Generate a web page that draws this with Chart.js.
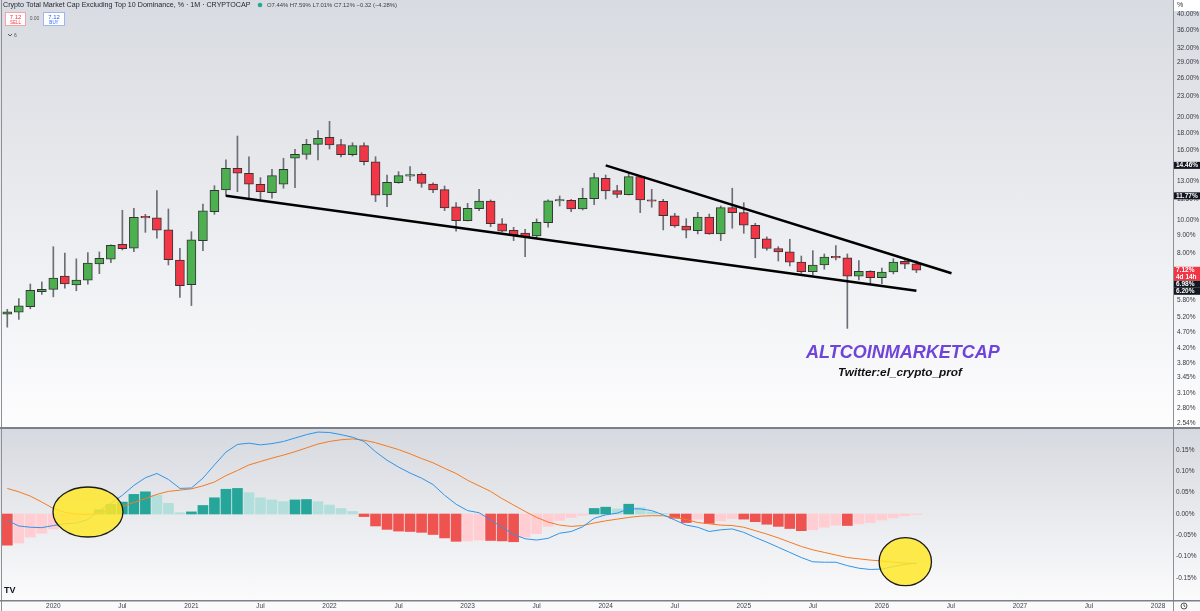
<!DOCTYPE html>
<html>
<head>
<meta charset="utf-8">
<script src="https://cdn.jsdelivr.net/npm/chart.js@4.4.1/dist/chart.umd.min.js"></script>
<style>
  html, body { margin: 0; padding: 0; }
  body { width: 1200px; height: 611px; position: relative; overflow: hidden; background: #fafafa; }
  #mainBg { position: absolute; left: 0; top: 0; width: 1200px; height: 429px; background: linear-gradient(#d8dbe1, #fdfdfe); }
  #macdBg { position: absolute; left: 0; top: 429px; width: 1200px; height: 171px; background: linear-gradient(#d6d9df, #fbfbfc); }
  canvas { position: absolute; left: 0; }
  #mainChart { top: 0; }
  #macdChart { top: 429px; }
</style>
</head>
<body>
<div id="mainBg"></div>
<div id="macdBg"></div>
<canvas id="mainChart" width="1200" height="429"></canvas>
<canvas id="macdChart" width="1200" height="182"></canvas>
<script>
// monthly candles, index 0 = Sep 2019
var opens = [5.29,5.37,5.57,6.16,6.26,6.85,6.45,6.66,7.43,7.67,
  8.49,8.26,10.18,10.14,9.35,7.63,6.46,8.70,10.58,12.25,
  14.18,13.71,12.73,12.02,12.73,15.17,15.58,16.67,17.48,16.65,
  15.54,16.52,14.82,11.84,12.86,13.45,13.62,12.75,12.27,10.92,
  9.95,10.79,11.37,9.75,9.33,9.16,8.98,9.82,11.37,11.42,
  10.77,11.55,13.25,12.19,11.86,13.40,11.45,11.35,10.29,9.60,
  9.30,10.20,9.10,10.87,10.51,9.65,8.81,8.25,8.06,7.52,
  7.05,7.38,7.83,7.74,6.84,7.07,6.77,7.04,7.57,7.44];
var highs = [5.47,5.88,6.49,6.58,8.35,8.00,7.69,8.02,8.06,8.45,
  10.68,10.82,10.39,12.19,10.77,8.26,9.24,11.14,12.61,15.00,
  17.63,15.33,13.31,14.08,15.17,16.12,17.24,18.28,19.47,17.24,
  16.85,16.85,15.33,13.55,13.86,14.33,13.76,12.86,12.58,11.24,
  11.19,12.30,11.45,10.09,9.52,9.39,10.07,11.45,11.76,11.50,
  12.39,13.71,13.55,12.64,13.71,13.46,12.30,11.50,10.46,10.09,
  10.53,10.41,10.99,12.39,11.24,9.78,8.92,8.35,8.78,7.84,
  8.13,7.95,8.41,7.95,7.60,7.10,7.23,7.70,7.63,7.59];
var lows = [4.85,5.11,5.49,6.05,5.95,6.31,6.20,6.48,6.96,7.50,
  8.17,8.07,9.20,8.84,7.38,5.93,5.61,8.13,10.39,11.76,
  12.11,11.60,11.50,11.58,12.39,12.44,15.07,15.00,16.15,15.30,
  15.41,14.50,11.32,10.94,12.81,13.04,12.47,12.02,10.65,9.28,
  9.93,10.65,9.56,9.22,8.70,7.81,8.81,9.52,10.99,10.58,
  10.70,11.09,11.52,11.63,11.84,10.51,10.90,9.35,9.52,8.86,
  9.10,9.08,8.70,9.46,9.14,7.75,8.15,7.58,7.33,6.98,
  6.90,7.17,7.63,4.81,6.67,6.49,6.50,6.95,7.20,7.01];
var closes = [5.38,5.60,6.22,6.26,6.76,6.49,6.67,7.48,7.72,8.43,
  8.24,10.18,10.14,9.33,7.65,6.42,8.74,10.63,12.22,14.18,
  13.71,12.73,12.11,13.49,14.08,15.58,16.67,17.36,16.59,15.54,
  16.52,14.82,11.82,12.90,13.49,13.50,12.81,12.25,10.84,9.95,
  10.82,11.37,9.75,9.28,9.04,8.92,9.85,11.39,11.41,10.77,
  11.58,13.31,12.16,11.89,13.40,11.45,11.35,10.29,9.60,9.33,
  10.20,9.10,10.87,10.51,9.65,8.81,8.25,8.06,7.52,7.05,
  7.38,7.79,7.74,6.84,7.07,6.77,7.04,7.53,7.42,7.12];

// MACD (12, 26, 9) pane
var macdLine = [-0.015,-0.028,-0.031,-0.032,-0.027,-0.023,-0.021,-0.013,0.008,0.025,
  0.044,0.067,0.085,0.095,0.081,0.060,0.061,0.084,0.115,0.145,
  0.163,0.166,0.162,0.165,0.170,0.178,0.186,0.192,0.191,0.186,
  0.180,0.170,0.146,0.126,0.110,0.096,0.084,0.069,0.044,0.023,
  0.008,0.003,-0.014,-0.031,-0.048,-0.058,-0.061,-0.057,-0.045,-0.041,
  -0.030,-0.010,-0.002,0.002,0.012,0.012,0.008,-0.002,-0.014,-0.026,
  -0.031,-0.041,-0.037,-0.035,-0.043,-0.055,-0.066,-0.078,-0.090,-0.102,
  -0.112,-0.113,-0.113,-0.121,-0.127,-0.130,-0.129,-0.123,-0.118,-0.115];
var signalLine = [0.060,0.052,0.042,0.028,0.013,0.004,0.000,-0.001,0.002,0.010,
  0.018,0.027,0.036,0.046,0.053,0.056,0.059,0.066,0.075,0.090,
  0.102,0.115,0.123,0.131,0.138,0.146,0.155,0.164,0.170,0.174,
  0.176,0.173,0.167,0.159,0.151,0.141,0.130,0.120,0.107,0.095,
  0.079,0.066,0.053,0.036,0.021,0.006,-0.008,-0.019,-0.026,-0.029,
  -0.027,-0.021,-0.016,-0.012,-0.008,-0.005,-0.004,-0.004,-0.008,-0.013,
  -0.020,-0.023,-0.026,-0.027,-0.031,-0.039,-0.047,-0.056,-0.066,-0.076,
  -0.084,-0.090,-0.096,-0.102,-0.105,-0.108,-0.110,-0.113,-0.115,-0.116];
var histogram = [-0.073,-0.068,-0.054,-0.045,-0.035,-0.025,-0.014,-0.004,0.010,0.023,
  0.028,0.046,0.052,0.044,0.025,0.003,0.005,0.020,0.038,0.058,
  0.060,0.050,0.038,0.033,0.029,0.033,0.034,0.029,0.021,0.013,
  0.006,-0.006,-0.028,-0.036,-0.040,-0.041,-0.043,-0.048,-0.056,-0.064,
  -0.063,-0.061,-0.062,-0.063,-0.065,-0.054,-0.046,-0.029,-0.015,-0.008,
  -0.003,0.013,0.016,0.012,0.023,0.015,0.005,0.001,-0.010,-0.020,
  -0.012,-0.022,-0.016,-0.011,-0.012,-0.018,-0.024,-0.029,-0.034,-0.039,
  -0.037,-0.031,-0.026,-0.027,-0.023,-0.020,-0.014,-0.009,-0.004,-0.001];

// trend lines drawn on the chart: [bar index, value]
var lowerTrend = [[19, 11.77], [79, 6.20]];
var upperTrend = [[52, 14.46], [82.05, 6.98]];

// axis ticks
var priceTicks = [40, 36, 32, 29, 26, 23, 20, 18, 16, 14.5, 13, 11.5, 10, 9, 8, 5.8, 5.2, 4.7, 4.2, 3.8, 3.45, 3.1, 2.8, 2.54];
var macdTicks = [0.15, 0.10, 0.05, 0, -0.05, -0.10, -0.15];
var timeTickPos = [4, 10, 16, 22, 28, 34, 40, 46, 52, 58, 64, 70, 76, 82, 88, 94, 100];
var timeTickLabels = ['2020', 'Jul', '2021', 'Jul', '2022', 'Jul', '2023', 'Jul', '2024', 'Jul', '2025', 'Jul', '2026', 'Jul', '2027', 'Jul', '2028'];

// yellow ellipses on the MACD pane, in bar index / value units
var circles = [
  { x0: 3.97, x1: 10.05, y0: 0.0633, y1: -0.0539 },
  { x0: 75.76, x1: 80.31, y0: -0.0555, y1: -0.168 }
];

var FONT = '"Liberation Sans", Arial, sans-serif';
var X_MIN = -0.634, X_MAX = 101.3;
var AXIS_W = 27;

var up = '#4caf50', down = '#f23645';
var bodyColors = closes.map(function(c, i) { return c >= opens[i] ? up : down; });
var histColors = histogram.map(function(h, i) {
  var prev = i > 0 ? histogram[i - 1] : 0;
  if (h >= 0) return h > prev ? '#26a69a' : '#b2dfdb';
  return h < prev ? '#ef5350' : '#ffcdd2';
});

function fitText(ctx, text, x, y, width, font, color) {
  ctx.font = font.replace('SIZE', '10px');
  var size = 10 * width / ctx.measureText(text).width;
  ctx.font = font.replace('SIZE', size.toFixed(2) + 'px');
  ctx.fillStyle = color;
  ctx.fillText(text, x, y);
}

function vline(ctx, x, y0, y1) {
  ctx.beginPath(); ctx.moveTo(x, y0); ctx.lineTo(x, y1); ctx.stroke();
}

var mainDecor = {
  id: 'mainDecor',
  afterDraw: function(chart) {
    var ctx = chart.ctx, area = chart.chartArea, ys = chart.scales.y;
    ctx.save();
    ctx.strokeStyle = '#8d9097';
    ctx.lineWidth = 1;
    vline(ctx, area.right + 0.5, 0, chart.height);
    vline(ctx, 1.5, 0, chart.height);
    ctx.fillStyle = '#7c8088';
    ctx.fillRect(0, chart.height - 2, 1200, 2);

    // "%" box on top of the price axis
    ctx.fillStyle = '#ffffff';
    ctx.fillRect(area.right + 1, 0, AXIS_W, 11);
    ctx.fillStyle = '#333';
    ctx.font = '7px ' + FONT;
    ctx.textBaseline = 'middle';
    ctx.textAlign = 'left';
    ctx.fillText('%', area.right + 4, 5);

    // header
    fitText(ctx, 'Crypto Total Market Cap Excluding Top 10 Dominance, % \u00b7 1M \u00b7 CRYPTOCAP', 3, 5, 248, 'SIZE ' + FONT, '#1e222d');
    ctx.fillStyle = '#22ab94';
    ctx.beginPath(); ctx.arc(260, 5, 2.3, 0, Math.PI * 2); ctx.fill();
    fitText(ctx, 'O7.44% H7.59% L7.01% C7.12% \u22120.32 (\u22124.28%)', 267, 5, 130, 'SIZE ' + FONT, '#3d4049');

    // sell / buy buttons
    ctx.fillStyle = '#ffffff';
    ctx.fillRect(5, 12, 21, 14);
    ctx.fillRect(43, 12, 22, 14);
    ctx.strokeStyle = '#f5a3a6';
    ctx.strokeRect(5.5, 12.5, 20, 13);
    ctx.strokeStyle = '#9db5f2';
    ctx.strokeRect(43.5, 12.5, 21, 13);
    ctx.textAlign = 'center';
    ctx.font = '6px ' + FONT;
    ctx.fillStyle = '#f23645';
    ctx.fillText('7.12', 15.5, 17);
    ctx.fillStyle = '#2962ff';
    ctx.fillText('7.12', 54, 17);
    ctx.font = '4.5px ' + FONT;
    ctx.fillStyle = '#f23645';
    ctx.fillText('SELL', 15.5, 22.5);
    ctx.fillStyle = '#2962ff';
    ctx.fillText('BUY', 54, 22.5);
    ctx.fillStyle = '#555';
    ctx.font = '5px ' + FONT;
    ctx.fillText('0.00', 34.5, 18.5);
    // collapse arrow and indicator count
    ctx.strokeStyle = '#555';
    ctx.beginPath(); ctx.moveTo(8, 34); ctx.lineTo(10, 36); ctx.lineTo(12, 34); ctx.stroke();
    ctx.textAlign = 'left';
    ctx.fillText('6', 14, 35.5);

    // watermark
    ctx.textBaseline = 'alphabetic';
    fitText(ctx, 'ALTCOINMARKETCAP', 806, 358, 194, 'italic bold SIZE ' + FONT, '#6f45d9');
    fitText(ctx, 'Twitter:el_crypto_prof', 838, 376, 124, 'italic bold SIZE ' + FONT, '#111111');

    // price labels: trend line ends and last close
    var last = closes.length - 1;
    var tags = [
      { v: upperTrend[0][1], bg: '#131722' },
      { v: lowerTrend[0][1], bg: '#131722' },
      { v: closes[last], bg: '#f23645', sub: '4d 14h' },
      { v: upperTrend[1][1], bg: '#131722' },
      { v: lowerTrend[1][1], bg: '#131722' }
    ];
    tags.forEach(function(t) { t.y = ys.getPixelForValue(t.v); });
    tags.sort(function(a, b) { return a.y - b.y; });
    var prevBottom = -100;
    ctx.textBaseline = 'middle';
    ctx.font = 'bold 6.5px ' + FONT;
    tags.forEach(function(t) {
      var h = t.sub ? 14 : 7;
      var top = Math.max(t.y - 3.5, prevBottom);
      ctx.fillStyle = t.bg;
      ctx.fillRect(area.right + 1, top, AXIS_W - 1, h);
      ctx.fillStyle = '#ffffff';
      ctx.fillText(t.v.toFixed(2) + '%', area.right + 3, top + 3.7);
      if (t.sub) ctx.fillText(t.sub, area.right + 3, top + 10.5);
      prevBottom = top + h;
    });
    ctx.restore();
  }
};

var macdDecor = {
  id: 'macdDecor',
  afterDatasetsDraw: function(chart) {
    var ctx = chart.ctx, xs = chart.scales.x, ys = chart.scales.y;
    ctx.save();
    circles.forEach(function(c) {
      var l = xs.getPixelForValue(c.x0), r = xs.getPixelForValue(c.x1);
      var t = ys.getPixelForValue(c.y0), b = ys.getPixelForValue(c.y1);
      ctx.beginPath();
      ctx.ellipse((l + r) / 2, (t + b) / 2, (r - l) / 2, (b - t) / 2, 0, 0, Math.PI * 2);
      ctx.fillStyle = 'rgba(255, 232, 40, 0.84)';
      ctx.fill();
      ctx.lineWidth = 1.3;
      ctx.strokeStyle = '#1a1a1a';
      ctx.stroke();
    });
    ctx.restore();
  },
  afterDraw: function(chart) {
    var ctx = chart.ctx, area = chart.chartArea;
    ctx.save();
    ctx.strokeStyle = '#8d9097';
    ctx.lineWidth = 1;
    vline(ctx, area.right + 0.5, 0, chart.height);
    vline(ctx, 1.5, 0, chart.height);
    ctx.fillStyle = '#7c8088';
    ctx.fillRect(0, area.bottom, 1200, 1.5);
    // TradingView logo
    ctx.fillStyle = '#131722';
    ctx.font = 'bold 9px ' + FONT;
    ctx.textBaseline = 'middle';
    ctx.fillText('TV', 4, 162);
    // clock icon
    ctx.strokeStyle = '#555';
    ctx.beginPath(); ctx.arc(area.right + 11, 177, 3, 0, Math.PI * 2); ctx.stroke();
    ctx.beginPath(); ctx.moveTo(area.right + 11, 175.3); ctx.lineTo(area.right + 11, 177); ctx.lineTo(area.right + 12.3, 177.8); ctx.stroke();
    ctx.restore();
  }
};

function fixedWidth(scale) {
  scale.width = AXIS_W;
  scale.paddingTop = 0;
  scale.paddingBottom = 0;
}

var idx = opens.map(function(_, i) { return i; });

new Chart(document.getElementById('mainChart'), {
  type: 'bar',
  data: {
    datasets: [
      {
        label: 'wicks',
        data: idx.map(function(i) { return { x: i, y: [lows[i], highs[i]] }; }),
        backgroundColor: '#6b6e76',
        barThickness: 1,
        grouped: false,
        order: 3
      },
      {
        label: 'bodies',
        data: idx.map(function(i) { return { x: i, y: [opens[i], closes[i]] }; }),
        backgroundColor: bodyColors,
        borderColor: '#343434',
        borderWidth: 1,
        borderSkipped: false,
        barThickness: 9,
        minBarLength: 1.5,
        grouped: false,
        order: 2
      },
      {
        type: 'line',
        label: 'lower',
        data: lowerTrend.map(function(p) { return { x: p[0], y: p[1] }; }),
        borderColor: '#000000',
        borderWidth: 2.5,
        pointRadius: 0,
        order: 1
      },
      {
        type: 'line',
        label: 'upper',
        data: upperTrend.map(function(p) { return { x: p[0], y: p[1] }; }),
        borderColor: '#000000',
        borderWidth: 2.5,
        pointRadius: 0,
        order: 1
      }
    ]
  },
  options: {
    responsive: false,
    animation: false,
    layout: { padding: 0 },
    plugins: { legend: { display: false }, tooltip: { enabled: false } },
    scales: {
      x: { type: 'linear', min: X_MIN, max: X_MAX, offset: false, display: false },
      y: {
        type: 'logarithmic',
        position: 'right',
        min: 2.438,
        max: 44.17,
        grid: { display: false, drawTicks: false },
        border: { display: false },
        afterBuildTicks: function(scale) {
          scale.ticks = priceTicks.map(function(v) { return { value: v }; });
        },
        afterFit: fixedWidth,
        ticks: {
          autoSkip: false,
          padding: 4,
          color: '#333640',
          font: { size: 6.5, family: FONT },
          callback: function(v) { return Number(v).toFixed(2) + '%'; }
        }
      }
    }
  },
  plugins: [mainDecor]
});

new Chart(document.getElementById('macdChart'), {
  type: 'bar',
  data: {
    datasets: [
      {
        label: 'Histogram',
        data: idx.map(function(i) { return { x: i, y: histogram[i] }; }),
        backgroundColor: histColors,
        barThickness: 10,
        grouped: false,
        order: 3
      },
      {
        type: 'line',
        label: 'Signal',
        data: idx.map(function(i) { return { x: i, y: signalLine[i] }; }),
        borderColor: '#f47a22',
        borderWidth: 1,
        pointRadius: 0,
        order: 2
      },
      {
        type: 'line',
        label: 'MACD',
        data: idx.map(function(i) { return { x: i, y: macdLine[i] }; }),
        borderColor: '#2f95e8',
        borderWidth: 1,
        pointRadius: 0,
        order: 1
      }
    ]
  },
  options: {
    responsive: false,
    animation: false,
    layout: { padding: 0 },
    plugins: { legend: { display: false }, tooltip: { enabled: false } },
    scales: {
      x: {
        type: 'linear',
        min: X_MIN,
        max: X_MAX,
        offset: false,
        position: 'bottom',
        grid: { display: false, drawTicks: false },
        border: { display: false },
        afterBuildTicks: function(scale) {
          scale.ticks = timeTickPos.map(function(v) { return { value: v }; });
        },
        afterFit: function(scale) {
          scale.height = 11;
          scale.paddingLeft = 0;
          scale.paddingRight = 0;
        },
        ticks: {
          autoSkip: false,
          maxRotation: 0,
          padding: 2,
          color: '#3d4049',
          font: { size: 6.5, family: FONT },
          callback: function(v) { return timeTickLabels[timeTickPos.indexOf(v)]; }
        }
      },
      y: {
        type: 'linear',
        position: 'right',
        min: -0.2015,
        max: 0.1992,
        grid: { display: false, drawTicks: false },
        border: { display: false },
        afterBuildTicks: function(scale) {
          scale.ticks = macdTicks.map(function(v) { return { value: v }; });
        },
        afterFit: fixedWidth,
        ticks: {
          autoSkip: false,
          padding: 3,
          color: '#333640',
          font: { size: 6.5, family: FONT },
          callback: function(v) { return (v < 0 ? '-' : '') + Math.abs(v).toFixed(2) + '%'; }
        }
      }
    }
  },
  plugins: [macdDecor]
});
</script>
</body>
</html>
